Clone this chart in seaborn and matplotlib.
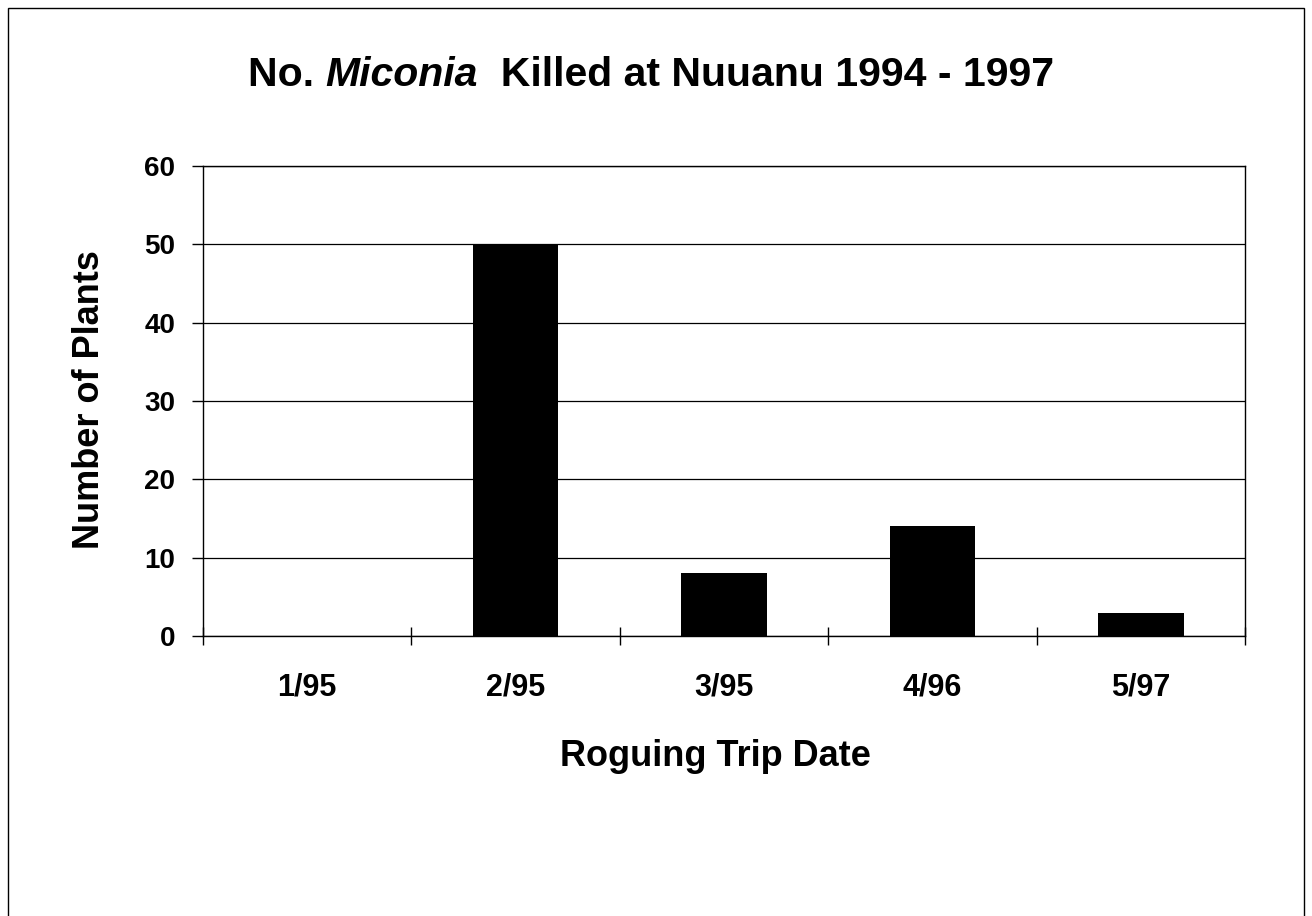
import matplotlib
matplotlib.use("Agg")
import matplotlib.pyplot as plt
import seaborn as sns
import pandas as pd
from matplotlib.ticker import FixedLocator
from matplotlib.patches import Rectangle

categories = ["1/95", "2/95", "3/95", "4/96", "5/97"]
plants = [0, 50, 8, 14, 3]
yticks = [0, 10, 20, 30, 40, 50, 60]

sns.set_theme(style="white")
plt.rcParams['font.family'] = ['Liberation Sans', 'DejaVu Sans']
plt.rcParams['text.color'] = 'black'
plt.rcParams['axes.labelcolor'] = 'black'
plt.rcParams['xtick.color'] = 'black'
plt.rcParams['ytick.color'] = 'black'

df = pd.DataFrame({"date": categories, "plants": plants})

fig = plt.figure(figsize=(13.12, 9.16), dpi=100)
ax = fig.add_axes([203/1312, 1-636/916, (1245-203)/1312, (636-166)/916])

sns.barplot(data=df, x="date", y="plants", color="black", width=0.41,
            saturation=1, ax=ax, edgecolor="black", linewidth=0)

ax.set_xlim(-0.5, len(categories)-0.5)
ax.set_ylim(0, 60)
ax.set_yticks(yticks)
ax.yaxis.grid(True, color="black", linewidth=0.9)
ax.set_axisbelow(True)
for s in ax.spines.values():
    s.set_color("black")
    s.set_linewidth(1.0)
    s.set_visible(True)

ax.set_yticklabels([str(v) for v in yticks], fontsize=20, fontweight="bold",
                   color="black")
ax.tick_params(axis="y", which="major", direction="out", length=8, width=1,
               color="black", pad=12, left=True)
ax.set_xticks(range(len(categories)))
ax.set_xticklabels(categories, fontsize=22, fontweight="bold", color="black")
ax.tick_params(axis="x", which="major", length=0, pad=26)
ax.xaxis.set_minor_locator(FixedLocator([i - 0.5 for i in range(len(categories)+1)]))
ax.tick_params(axis="x", which="minor", direction="inout", length=13, width=1,
               color="black", bottom=True)

ax.set_xlabel("Roguing Trip Date", fontsize=26, fontweight="bold", color="black",
              va="center")
ax.xaxis.set_label_coords((715-203)/1042, (636-757)/470)
ax.set_ylabel("Number of Plants", fontsize=26, fontweight="bold", color="black",
              va="center")
ax.yaxis.set_label_coords((90-203)/1042, (636-400)/470)

# Title with italic genus name
fig.canvas.draw()
r = fig.canvas.get_renderer()
parts = [("No. ", "normal"), ("Miconia", "italic"), ("  Killed at Nuuanu 1994 - 1997", "normal")]
texts = []
for s, st in parts:
    t = fig.text(0, 1-75/916, s, fontsize=29.5, fontweight="bold", style=st,
                 ha="left", va="center", color="black")
    texts.append(t)
widths = [t.get_window_extent(r).width for t in texts]
total = sum(widths)
x0 = 651 - total/2
for t, w in zip(texts, widths):
    t.set_x(x0/1312)
    x0 += w

fig.patches.append(Rectangle((8/1312, -0.05), (1304-8)/1312, 1.05-8/916,
                             transform=fig.transFigure, fill=False,
                             edgecolor="black", linewidth=1.0))
fig.savefig("out.png", dpi=100, facecolor="white")
